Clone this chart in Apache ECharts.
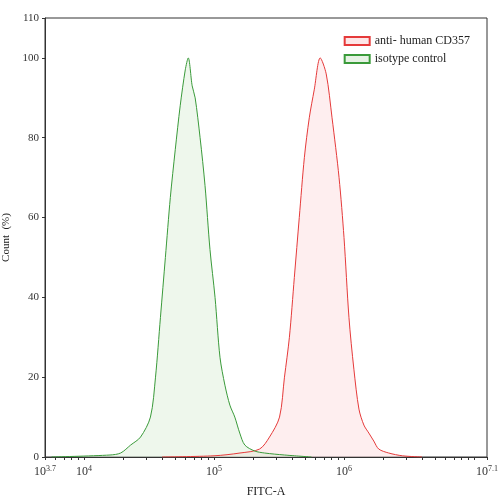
<!DOCTYPE html>
<html><head><meta charset="utf-8">
<script src="https://cdn.jsdelivr.net/npm/echarts@6/dist/echarts.min.js"></script>
<style>html,body{margin:0;padding:0;background:#fff}#c{width:500px;height:500px}</style>
</head><body><div id="c"></div>
<script>
const xLabelValues = [3.7, 4, 5, 6, 7.1];
const yTicks = [0, 20, 40, 60, 80, 100, 110];
const isoX = [3.75, 4.2, 4.282, 4.359, 4.435, 4.511, 4.550, 4.588, 4.626, 4.664, 4.702, 4.740, 4.779, 4.802, 4.832, 4.855, 4.893, 4.931, 4.969, 5.008, 5.046, 5.084, 5.122, 5.160, 5.198, 5.237, 5.313, 5.389, 5.542, 5.75];
const isoY = [0, 0.5, 1, 3, 5, 10, 20, 35, 50, 65, 77, 88, 97, 100, 93, 90, 80, 68, 52, 40, 25, 18, 13, 10, 6, 3, 1.5, 1, 0.5, 0];
const cdX = [4.6, 5.0, 5.2, 5.351, 5.427, 5.504, 5.542, 5.580, 5.618, 5.656, 5.695, 5.733, 5.771, 5.817, 5.863, 5.908, 5.962, 6.000, 6.038, 6.076, 6.115, 6.153, 6.191, 6.229, 6.267, 6.344, 6.45, 6.6];
const cdY = [0, 0.3, 1, 2, 5, 10, 20, 30, 45, 60, 75, 85, 92, 100, 96, 85, 70, 55, 35, 22, 12, 8, 6, 4, 2, 1, 0.3, 0];
const minorTicks = [];
for (let d = 3; d <= 7; d++) for (let k = 1; k <= 9; k++) { const v = d + Math.log10(k); if (v >= 3.7 && v <= 7.1) minorTicks.push(v); }
minorTicks.push(3.7, 7.1);
const font = 'Liberation Serif';
const sup = {fontFamily: font, fontSize: 8, color: '#333', verticalAlign: 'top', padding: [0,0,6,0]};
const chart = echarts.init(document.getElementById('c'));
chart.setOption({
  animation: false,
  textStyle: {fontFamily: font},
  grid: {left: 45, right: 13, top: 18, bottom: 43, outerBoundsMode: 'none', containLabel: false, show: true, borderColor: '#333', borderWidth: 1},
  legend: {
    right: 25, top: 30, orient: 'vertical', itemWidth: 25, itemHeight: 8, itemGap: 6,
    textStyle: {fontFamily: font, fontSize: 12, color: '#222'},
    data: [{name: 'anti- human CD357', icon: 'rect'}, {name: 'isotype control', icon: 'rect'}]
  },
  xAxis: {
    type: 'value', min: 3.7, max: 7.1,
    name: 'FITC-A', nameLocation: 'middle', nameGap: 29,
    nameTextStyle: {fontFamily: font, fontSize: 12, color: '#222'},
    axisLine: {lineStyle: {color: '#333'}},
    axisTick: {customValues: minorTicks, length: 3, lineStyle: {color: '#333'}},
    splitLine: {show: false},
    axisLabel: {
      customValues: xLabelValues,
      formatter: v => '{b|10}{s|' + (Math.round(v * 10) / 10) + '}',
      rich: {b: {fontFamily: font, fontSize: 12, color: '#333'}, s: sup}
    }
  },
  yAxis: {
    type: 'value', min: 0, max: 110, interval: 20,
    name: 'Count  (%)', nameLocation: 'middle', nameGap: 27,
    nameTextStyle: {fontFamily: font, fontSize: 11, color: '#222'},
    axisLine: {show: true, lineStyle: {color: '#333'}},
    axisTick: {customValues: yTicks, length: 3},
    splitLine: {show: false},
    axisLabel: {customValues: yTicks, fontFamily: font, fontSize: 11, color: '#333', margin: 6}
  },
  series: [
    {name: 'anti- human CD357', type: 'line', symbol: 'none', smooth: 0.3,
     data: cdX.map((x, i) => [x, cdY[i]]),
     itemStyle: {color: '#fde6e7', borderColor: '#e53a3a', borderWidth: 1},
     lineStyle: {color: '#e53a3a', width: 1}, areaStyle: {color: 'rgba(253,215,218,0.6)'}},
    {name: 'isotype control', type: 'line', symbol: 'none', smooth: 0.3,
     data: isoX.map((x, i) => [x, isoY[i]]),
     itemStyle: {color: '#e6f2e4', borderColor: '#3a9a3a', borderWidth: 1},
     lineStyle: {color: '#3a9a3a', width: 1}, areaStyle: {color: 'rgba(214,235,210,0.6)'}}
  ]
});
</script></body></html>
